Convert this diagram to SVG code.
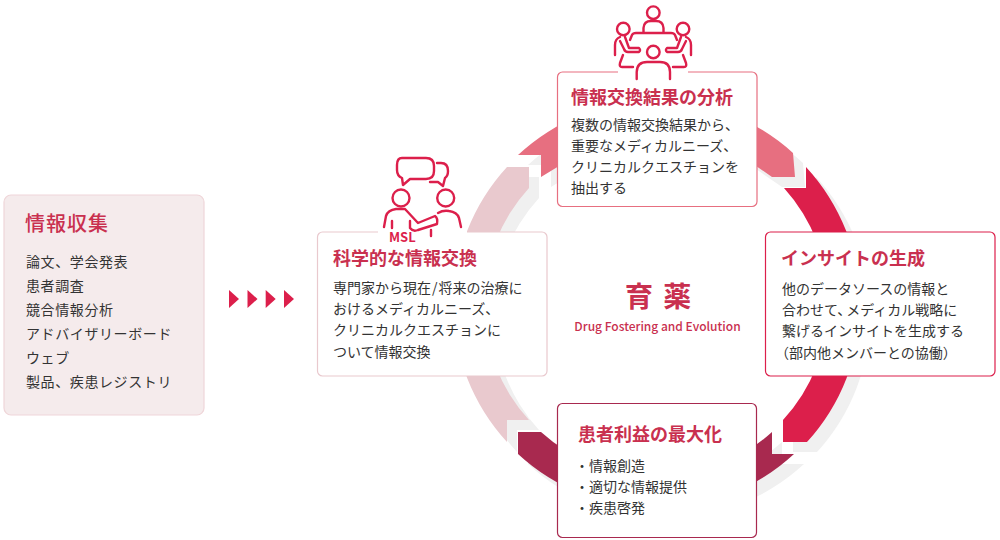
<svg xmlns="http://www.w3.org/2000/svg" width="1000" height="540" viewBox="0 0 1000 540">
<style>
text{font-family:"Noto Sans CJK JP","Noto Sans",sans-serif}
.t{font-size:18px;font-weight:700;fill:#C9304F}
.b{font-size:14px;fill:#333}
.l{font-size:14px;fill:#333;letter-spacing:.6px}
.i{fill:none;stroke:#DC1F4B;stroke-width:2.4;stroke-linecap:round;stroke-linejoin:round}
.box{fill:#fff;stroke-width:1.2}
</style>
<defs>
<path id="sA" d="M518 155H541V177L600 141H720L772 177H795L793 153A203 203 0 0 0 518 155Z"/>
<path id="sB" d="M806 167V188H784A172 172 0 0 1 783 420V442H807A203 203 0 0 0 806 167Z"/>
<path id="sC" d="M794 454H772V432A172 172 0 0 1 541 432H518V454A203 203 0 0 0 794 454Z"/>
<path id="sD" d="M507 442V420H529A172 172 0 0 1 529 188V167H507A203 203 0 0 0 507 442Z"/>
<path id="tri" d="M0 0L10 9L0 18Z" fill="#DC1F4B"/>
</defs>
<g id="connectors">
<g fill="#F0F0F0" transform="translate(10 10)">
<use href="#sA"/><use href="#sB"/><use href="#sC"/><use href="#sD"/>
</g>
<use href="#sD" fill="#E9C9CE"/>
<use href="#sC" fill="#A8294F"/>
<use href="#sB" fill="#DC1F4B"/>
<use href="#sA" fill="#E76F80"/>
<use href="#tri" x="229" y="290"/><use href="#tri" x="247.5" y="290"/><use href="#tri" x="265.7" y="290"/><use href="#tri" x="284" y="290"/>
</g>
<g id="node-collect">
<rect x="4" y="195" width="200" height="220" rx="7" fill="#F5EBEC" stroke="#EFD6D9" stroke-width="1.2"/>
<text x="25" y="231" font-weight="500" fill="#C9304F" style="font-size:20px;letter-spacing:1px">情報収集</text>
<text class="l" x="26" y="267">論文、学会発表</text>
<text class="l" x="26" y="291">患者調査</text>
<text class="l" x="26" y="315">競合情報分析</text>
<text class="l" x="26" y="339">アドバイザリーボード</text>
<text class="l" x="26" y="363">ウェブ</text>
<text class="l" x="26" y="387">製品、疾患レジストリ</text>
</g>
<g id="node-exchange">
<rect class="box" x="317.5" y="232" width="229.5" height="144" rx="5" stroke="#E9C9CE"/>
<path d="M378 232H467" stroke="#fff" stroke-width="3" fill="none"/>
<g class="i">
<path d="M402 158H426Q434 158 434 166V171Q434 179 426 179H410L403 185L402 178Q397 176 397 170V165Q397 158 402 158Z"/>
<path d="M437 163H441Q448 163 448 171Q448 176 445 178L443 186L438 182H430"/>
<circle cx="401" cy="198" r="8.5"/><circle cx="445.7" cy="198" r="8.5"/>
<path d="M384 227L386 216Q388 210 396 209H405L418 223L435 216Q438 218 437 224L418 230Q413 232 410 228V221"/>
<path d="M438 213Q443 210 449 211Q457 212 459 218L461 227"/>
<path d="M392 221V228M431 230V236"/>
</g>
<text x="389" y="242" font-weight="700" fill="#DC1F4B" style="font-size:13px">MSL</text>
<text class="t" x="333" y="265">科学的な情報交換</text>
<text class="b" x="333" y="293">専門家から現在<tspan dx="1">/</tspan><tspan dx="1">将来の治療に</tspan></text>
<text class="b" x="333" y="314">おけるメディカルニーズ、</text>
<text class="b" x="333" y="335">クリニカルクエスチョンに</text>
<text class="b" x="333" y="357">ついて情報交換</text>
</g>
<g id="node-analysis">
<rect class="box" x="557.5" y="72" width="199.5" height="134.5" rx="5" stroke="#E76F80"/>
<path d="M618 72H688" stroke="#fff" stroke-width="3" fill="none"/>
<g class="i">
<circle cx="653.3" cy="12.7" r="6.3"/>
<path d="M643.5 32V28Q644 21 651 21H656Q663 21 663.5 28V32"/>
<path d="M630 40L632 35Q633 33 636 33H671Q674 33 675 35L677 40"/>
<circle cx="623.3" cy="29" r="6.3"/><circle cx="683" cy="29" r="6.3"/>
<path d="M615 55L615 45Q615 39 620 37M625 37L629 48H639Q641 50 639 52L628 52Q625 52 624 49L620 41"/>
<path d="M691 55L691 45Q691 39 686 37M681 37L677 48H667Q665 50 667 52L678 52Q681 52 682 49L686 41"/>
<circle cx="653.3" cy="52" r="6.3"/>
<path d="M636.7 79V72Q637 62 647 62H660Q670 62 670 72V79"/>
<path d="M623 55L620 63Q619 67 622 67H633M683 55L686 63Q687 67 684 67H673"/>
</g>
<text class="t" x="571" y="104">情報交換結果の分析</text>
<text class="b" x="571" y="130">複数の情報交換結果から、</text>
<text class="b" x="571" y="151">重要なメディカルニーズ、</text>
<text class="b" x="571" y="172">クリニカルクエスチョンを</text>
<text class="b" x="571" y="193">抽出する</text>
</g>
<g id="node-insight">
<rect class="box" x="765.5" y="232" width="229.5" height="144" rx="5" stroke="#DC1F4B"/>
<text class="t" x="781" y="265">インサイトの生成</text>
<text class="b" x="782" y="294">他のデータソースの情報と</text>
<text class="b" x="782" y="315">合わせて、<tspan dx="-5">メディカル戦略に</tspan></text>
<text class="b" x="782" y="336">繋げるインサイトを生成する</text>
<text class="b" x="775" y="358">（部内他メンバーとの協働）</text>
</g>
<g id="node-benefit">
<rect class="box" x="557.5" y="403.5" width="199" height="134" rx="5" stroke="#A8294F"/>
<text class="t" x="578" y="441">患者利益の最大化</text>
<text class="b" x="575" y="471">・情報創造</text>
<text class="b" x="575" y="492">・適切な情報提供</text>
<text class="b" x="575" y="513">・疾患啓発</text>
</g>
<g id="node-center">
<text x="625" y="306.5" font-weight="700" fill="#C9304F" style="font-size:28px;letter-spacing:2px">育 薬</text>
<text x="657.5" y="331" font-weight="500" fill="#C9304F" text-anchor="middle" style="font-size:12px">Drug Fostering and Evolution</text>
</g>
</svg>
